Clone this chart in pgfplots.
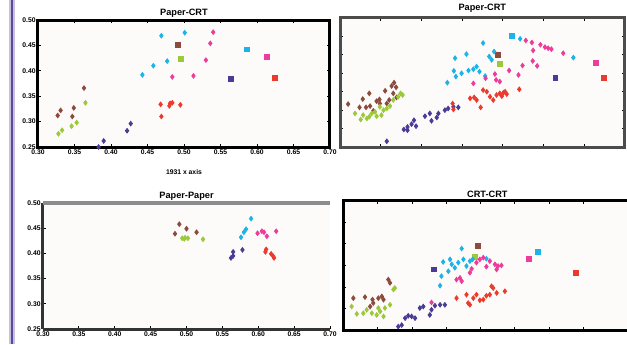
\documentclass[border=0pt]{standalone}
\usepackage{fontspec}
\setmainfont{Liberation Sans}
\usepackage{pgfplots}
\pgfplotsset{compat=1.18}
\definecolor{cbrown}{HTML}{8C4B3C}
\definecolor{cgreen}{HTML}{9CC93A}
\definecolor{cpurple}{HTML}{4A3C96}
\definecolor{ccyan}{HTML}{1BB3E8}
\definecolor{cpink}{HTML}{EC3C9C}
\definecolor{cred}{HTML}{EA3B2C}
\definecolor{bgc}{HTML}{FCFBF9}
\definecolor{lav}{HTML}{5B4A9E}
\pgfplotsset{
  every axis title shift=0pt,
  panel/.style={scale only axis, axis background/.style={fill=bgc},
    axis line style={line width=1.5pt},
    tick style={black, line width=0.4pt}, major tick length=1.5pt,
    title style={font=\fontsize{4.6}{5}\selectfont\bfseries, inner sep=0pt, at={(0.5,1)}, anchor=base, yshift=#1},
    ticklabel style={font=\fontsize{3.4}{4}\selectfont\bfseries, inner sep=1pt},
    /pgf/number format/assume math mode=true,
    /pgf/number format/.cd, fixed, fixed zerofill, precision=2, /pgfplots/.cd,
    clip=false},
  panel/.default=2pt,
  leftpanel/.style={panel=#1, xmin=0.30, xmax=0.70, ymin=0.25, ymax=0.50,
    xtick={0.30,0.35,0.40,0.45,0.50,0.55,0.60,0.65,0.70},
    ytick={0.25,0.30,0.35,0.40,0.45,0.50}},
  s/.style={only marks, mark=diamond*, mark size=1.15pt, color=#1, mark options={fill=#1, draw=#1}},
  b/.style={only marks, mark=square*, mark size=1.2pt, color=#1, mark options={fill=#1, draw=#1}},
}
\begin{document}
\begin{tikzpicture}
\path[use as bounding box] (0,0) rectangle (313.5pt,172pt);
\draw[lav!35, line width=3pt] (6pt,0) -- (6pt,172pt);
\draw[lav, line width=1.4pt] (6pt,0) -- (6pt,172pt);

% ---------- top left: Paper-CRT ----------
\begin{axis}[leftpanel=2.2pt, at={(19pt,98.5pt)}, anchor=south west,
  width=146pt, height=63.5pt, title={Paper-CRT},
  xlabel={1931 x axis}, xlabel style={font=\fontsize{3.4}{4}\selectfont\bfseries, yshift=-3pt}]
\addplot[s=cbrown] coordinates {(0.363,0.366) (0.331,0.322) (0.327,0.312) (0.349,0.327) (0.347,0.310)};
\addplot[b=cbrown] coordinates {(0.492,0.451)};
\addplot[s=cgreen] coordinates {(0.365,0.337) (0.353,0.298) (0.346,0.291) (0.333,0.283) (0.328,0.276)};
\addplot[b=cgreen] coordinates {(0.496,0.424)};
\addplot[s=cpurple] coordinates {(0.427,0.296) (0.422,0.282) (0.390,0.262) (0.383,0.250)};
\addplot[b=cpurple] coordinates {(0.564,0.384)};
\addplot[s=ccyan] coordinates {(0.469,0.469) (0.501,0.475) (0.477,0.419) (0.458,0.410) (0.443,0.392)};
\addplot[b=ccyan] coordinates {(0.586,0.442)};
\addplot[s=cpink] coordinates {(0.540,0.476) (0.536,0.454) (0.530,0.421) (0.513,0.390) (0.484,0.388)};
\addplot[b=cpink] coordinates {(0.614,0.428)};
\addplot[s=cred] coordinates {(0.468,0.334) (0.481,0.336) (0.480,0.331) (0.484,0.337) (0.495,0.333) (0.469,0.310)};
\addplot[b=cred] coordinates {(0.625,0.386)};
\end{axis}

% ---------- bottom left: Paper-Paper ----------
\begin{axis}[leftpanel=2.4pt, at={(21.5pt,7.5pt)}, anchor=south west,
  width=143.5pt, height=63pt, title={Paper-Paper},
  axis x line*=bottom, axis y line*=left,
  x axis line style={-, line width=1.5pt, color=black!80},
  y axis line style={-, line width=1.5pt, color=black!80},
  after end axis/.code={\draw[black!45, line width=2pt] (rel axis cs:0,1) -- (rel axis cs:1,1);}]
\addplot[s=cbrown] coordinates {(0.490,0.458) (0.500,0.449) (0.484,0.439) (0.514,0.442)};
\addplot[s=cgreen] coordinates {(0.494,0.430) (0.498,0.431) (0.502,0.430) (0.523,0.428) (0.497,0.429)};
\addplot[s=ccyan] coordinates {(0.590,0.469) (0.583,0.448) (0.580,0.442) (0.576,0.432)};
\addplot[s=cpink] coordinates {(0.599,0.440) (0.605,0.444) (0.608,0.442) (0.612,0.434) (0.625,0.444)};
\addplot[s=cpurple] coordinates {(0.565,0.403) (0.565,0.395) (0.562,0.391) (0.578,0.407)};
\addplot[s=cred] coordinates {(0.611,0.408) (0.618,0.399) (0.621,0.394) (0.622,0.391) (0.610,0.403)};
\end{axis}

% ---------- top right: Paper-CRT ----------
\begin{axis}[panel=3.5pt, at={(170pt,98.5pt)}, anchor=south west,
  width=142.3pt, height=64.5pt, title={Paper-CRT},
  axis line style={line width=1.5pt, color=black!70},
  xmin=0, xmax=7, ymin=0, ymax=7, xtick={1,...,6}, ytick={1,...,6},
  xticklabels={}, yticklabels={}]
\addplot[s=cbrown] coordinates {(0.20,2.33) (0.56,2.60) (0.48,2.15) (0.72,2.91) (0.64,2.15) (0.82,1.96) (0.90,2.49) (0.97,2.58) (1.11,3.05) (1.21,2.55) (1.27,3.31) (1.33,3.49) (1.38,3.24) (1.31,2.91) (1.39,2.69) (1.15,2.36) (0.98,2.36) (0.74,2.22)};
\addplot[b=cbrown] coordinates {(3.89,5.00)};
\addplot[s=cgreen] coordinates {(0.37,1.82) (0.51,1.49) (0.72,1.64) (0.78,1.82) (0.90,1.67) (1.02,1.73) (1.07,2.00) (1.15,2.09) (1.23,2.22) (1.31,2.55) (1.43,2.73) (1.49,2.91) (1.54,2.82) (0.98,2.18) (0.86,1.91) (0.57,1.73) (0.66,1.55)};
\addplot[b=cgreen] coordinates {(3.93,4.49)};
\addplot[s=cpurple] coordinates {(1.15,0.31) (1.57,0.95) (1.66,1.09) (1.76,1.24) (1.82,1.45) (1.87,1.13) (2.09,1.67) (2.21,1.82) (2.25,1.42) (2.38,1.60) (2.42,1.82) (2.58,2.00) (2.66,2.09) (2.79,2.18) (2.91,2.15) (1.66,0.91)};
\addplot[b=cpurple] coordinates {(5.30,3.73)};
\addplot[s=ccyan] coordinates {(2.64,3.49) (2.83,4.82) (2.80,4.13) (2.85,3.82) (3.11,5.04) (2.99,4.00) (3.16,4.15) (3.28,4.22) (3.36,4.36) (3.43,4.09) (3.52,5.64) (3.57,3.85) (3.67,4.91) (3.73,4.73) (3.79,5.18) (4.43,5.87) (5.74,4.85)};
\addplot[b=ccyan] coordinates {(4.22,6.05)};
\addplot[s=cpink] coordinates {(3.28,3.45) (3.58,3.73) (3.81,3.96) (3.84,3.64) (3.93,3.55) (4.16,4.15) (4.39,3.91) (4.49,4.42) (4.57,5.78) (4.72,5.67) (4.75,5.24) (4.74,4.67) (4.85,4.40) (4.93,5.55) (5.04,5.42) (5.12,5.36) (5.20,5.31) (5.49,5.09)};
\addplot[b=cpink] coordinates {(6.30,4.58)};
\addplot[s=cred] coordinates {(2.79,2.04) (2.77,2.36) (3.20,2.64) (3.30,2.69) (3.36,2.55) (3.46,2.15) (3.52,3.09) (3.61,3.00) (3.69,2.73) (3.77,2.55) (3.85,2.82) (3.93,2.91) (3.98,2.76) (4.02,2.95) (4.06,3.00) (4.10,2.87) (4.41,3.13)};
\addplot[b=cred] coordinates {(6.49,3.73)};
\end{axis}

% ---------- bottom right: CRT-CRT ----------
\begin{axis}[panel=1.6pt, at={(171.7pt,7pt)}, anchor=south west,
  width=144pt, height=64.6pt, title={CRT-CRT},
  xmin=0, xmax=8.4, ymin=0, ymax=6, xtick={1,...,7}, ytick={1,...,5},
  xticklabels={}, yticklabels={}]
\addplot[s=cbrown] coordinates {(0.29,1.48) (0.63,1.53) (0.85,1.41) (0.78,1.09) (1.12,1.56) (1.17,1.41) (1.31,2.34) (1.36,2.19) (0.87,1.25) (1.02,1.48)};
\addplot[b=cbrown] coordinates {(3.93,3.91)};
\addplot[s=cgreen] coordinates {(0.24,1.09) (0.39,0.75) (0.68,0.94) (0.83,0.78) (0.97,0.70) (1.07,0.86) (1.17,0.63) (1.21,1.02) (1.36,1.17) (1.46,1.88) (1.50,1.95) (1.02,1.02) (0.58,0.78)};
\addplot[b=cgreen] coordinates {(3.83,3.41)};
\addplot[s=cpurple] coordinates {(1.60,0.16) (1.70,0.23) (1.80,0.55) (1.89,0.66) (1.99,0.63) (2.09,0.55) (2.23,1.02) (2.33,1.09) (2.52,0.70) (2.57,0.94) (2.67,1.13) (2.82,1.17) (2.96,1.17)};
\addplot[b=cpurple] coordinates {(2.64,2.81)};
\addplot[s=ccyan] coordinates {(2.82,2.06) (2.86,2.50) (2.91,3.16) (3.06,2.73) (3.11,3.28) (3.16,3.05) (3.25,2.89) (3.35,3.13) (3.45,3.78) (3.50,3.28) (3.59,2.97) (3.69,3.20) (3.77,3.28) (4.17,3.31)};
\addplot[b=ccyan] coordinates {(5.68,3.63)};
\addplot[s=cpink] coordinates {(2.57,1.28) (3.30,2.34) (3.40,2.42) (3.45,2.27) (3.69,2.66) (3.74,2.84) (3.88,3.13) (3.98,3.28) (4.08,3.36) (4.17,2.94) (4.27,3.20) (4.42,3.05) (4.47,2.81) (4.51,2.97) (4.61,3.00)};
\addplot[b=cpink] coordinates {(5.41,3.31)};
\addplot[s=cred] coordinates {(3.30,1.48) (3.59,1.64) (3.64,1.25) (3.69,1.17) (3.79,1.48) (3.88,1.64) (3.98,1.38) (4.08,1.41) (4.17,1.59) (4.27,1.64) (4.32,2.03) (4.37,1.95) (4.47,1.72) (4.71,1.80)};
\addplot[b=cred] coordinates {(6.78,2.66)};
\end{axis}
\end{tikzpicture}
\end{document}
